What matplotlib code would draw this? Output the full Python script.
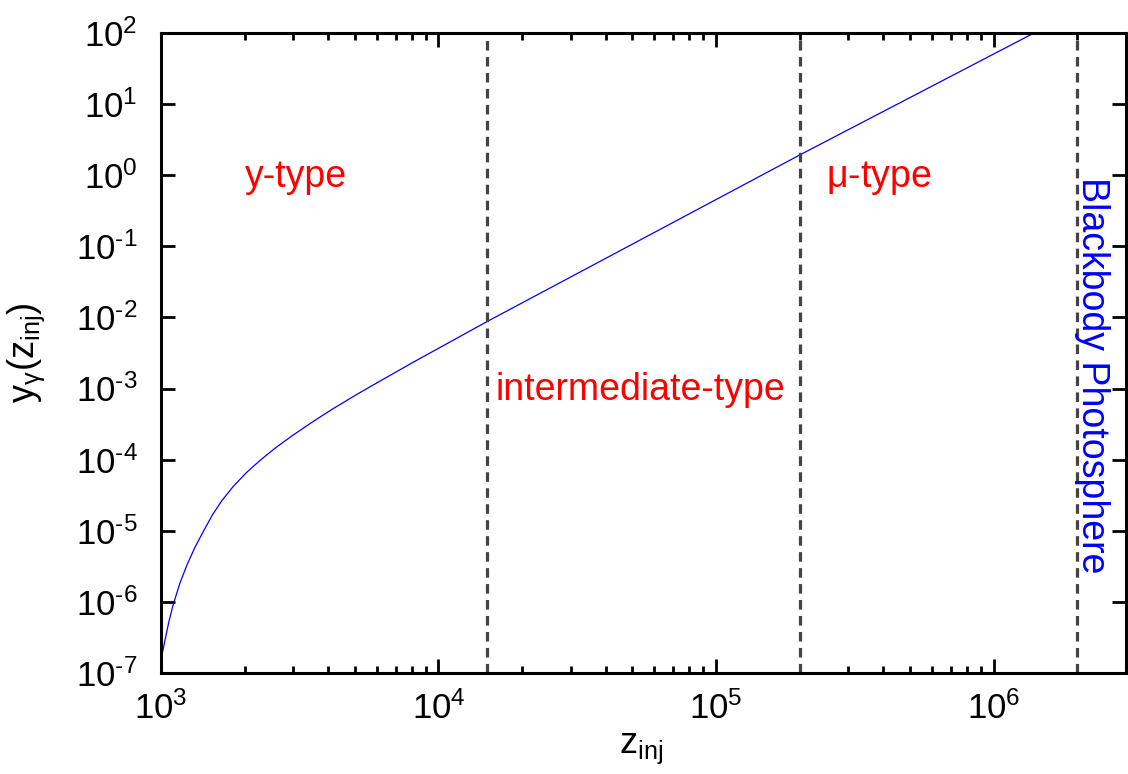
import numpy as np
import matplotlib
matplotlib.use("Agg")
import matplotlib.pyplot as plt

plt.rcParams['font.family'] = ['Liberation Sans', 'DejaVu Sans']
plt.rcParams['mathtext.fontset'] = 'custom'
plt.rcParams['mathtext.rm'] = 'Liberation Sans'
plt.rcParams['mathtext.it'] = 'Liberation Sans:italic'

# y-parameter as a function of injection redshift
z_inj = [1000, 1034, 1068, 1104, 1170, 1240, 1325, 1427, 1538, 1657,
         1815, 2021, 2269, 2589, 2981, 3517, 4150, 5105, 6278, 8245,
         10925, 14962, 55600, 2.0e5, 1.4e6]
y_gamma = [1.52e-7, 2.90e-7, 5.27e-7, 8.85e-7, 1.83e-6, 3.29e-6, 5.82e-6,
           1.01e-5, 1.71e-5, 2.65e-5, 4.13e-5, 6.44e-5, 9.68e-5, 1.47e-4,
           2.19e-4, 3.40e-4, 5.15e-4, 8.37e-4, 1.33e-3, 2.43e-3, 4.45e-3,
           8.75e-3, 0.134, 1.92, 100.0]

# era boundaries
z_bounds = [1.5e4, 2.0e5, 2.0e6]

xexp = [3, 4, 5, 6]
yexp = list(range(-7, 3))


def pow_label(e):
    s = str(e).replace('-', r'\text{-}')
    return r'$\mathregular{10^{%s}}$' % s


fig = plt.figure(figsize=(11.28, 7.74), dpi=100)
ax = fig.add_axes([0.1427, 0.1305, 0.8555, 0.8269])

ax.plot(z_inj, y_gamma, color='blue', lw=0.9)
for zb in z_bounds:
    ax.axvline(zb, color='#444444', lw=2.3, dashes=(3, 2))

ax.set_xscale('log')
ax.set_yscale('log')
ax.set_xlim(1e3, 3e6)
ax.set_ylim(1e-7, 1e2)

ax.set_xticks([10.0**e for e in xexp])
ax.set_xticklabels([pow_label(e) for e in xexp])
ax.set_yticks([10.0**e for e in yexp])
ax.set_yticklabels([pow_label(e) for e in yexp])

ax.tick_params(which='both', direction='in', top=True, right=True, width=2.0)
ax.tick_params(which='major', length=10, labelsize=25)
ax.tick_params(which='minor', length=5)
ax.tick_params(axis='x', which='major', pad=13)
ax.tick_params(axis='y', which='major', pad=17)
for sp in ax.spines.values():
    sp.set_linewidth(2.2)

ax.set_xlabel(r'$\mathregular{z_{inj}}$', fontsize=26, va='top')
ax.xaxis.set_label_coords(0.497, -0.09)
ax.set_ylabel(r'$\mathregular{y_{\gamma}(z_{inj})}$', fontsize=26)
ax.yaxis.set_label_coords(-0.118, 0.5)

ax.text(2.0e3, 0.68, 'y-type', color='red', fontsize=27, ha='left', va='baseline')
ax.text(1.6e4, 6.9e-4, 'intermediate-type', color='red', fontsize=27,
        ha='left', va='baseline')
ax.text(2.49e5, 0.68, r'$\mathregular{\mu}$-type', color='red', fontsize=27,
        ha='left', va='baseline')
ax.text(2.27e6, 1.55e-3, 'Blackbody Photosphere', color='blue', fontsize=27,
        ha='center', va='center', rotation=-90)

fig.savefig('out.png', dpi=100)
